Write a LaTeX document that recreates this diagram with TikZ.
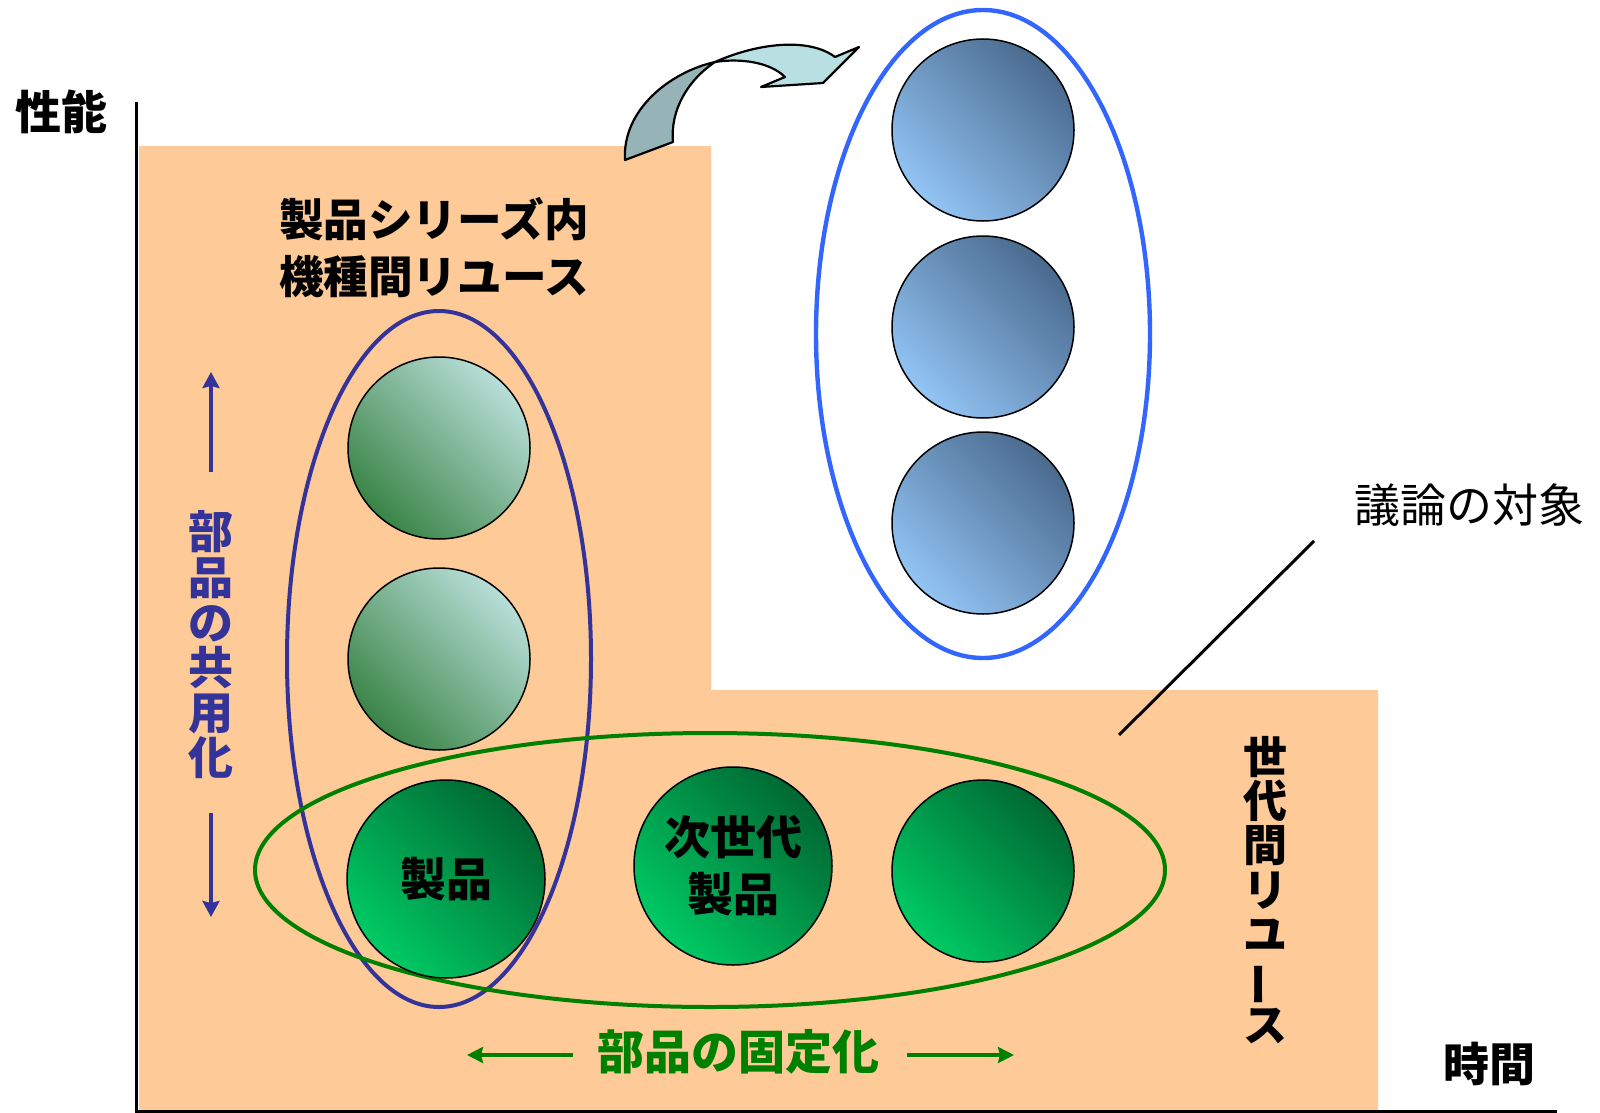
\documentclass[tikz,border=0pt]{standalone}
\usepackage{fontspec}
\usepackage{graphicx}
\newfontfamily\jp{Noto Sans CJK JP}
\usetikzlibrary{shapes.geometric,arrows.meta}
\definecolor{peach}{RGB}{253,202,152}
\definecolor{navy}{RGB}{51,51,153}
\definecolor{bluering}{RGB}{51,102,255}
\definecolor{greenring}{RGB}{0,128,0}
\definecolor{bdark}{RGB}{74,106,142}
\definecolor{blight}{RGB}{146,196,244}
\definecolor{tlight}{RGB}{184,222,216}
\definecolor{tdark}{RGB}{58,132,70}
\definecolor{gdark}{RGB}{0,104,50}
\definecolor{glight}{RGB}{0,202,100}
\definecolor{arrdark}{RGB}{150,180,184}
\definecolor{arrlight}{RGB}{184,224,227}
\begin{document}
\begin{tikzpicture}[x=0.5pt,y=-0.5pt,
  ball/.style={circle, draw=black, line width=0.75pt, inner sep=0pt, minimum size=91pt},
  bigball/.style={ball, minimum size=99pt},
  blueball/.style={ball, top color=bdark, bottom color=blight, shading angle=-45},
  tealball/.style={ball, top color=tlight, bottom color=tdark, shading angle=-45},
  greenball/.style={top color=gdark, bottom color=glight, shading angle=-45},
  ring/.style={ellipse, inner sep=0pt},
  jpb/.style={font={\jp\bfseries\fontsize{#1}{#1}\selectfont}},
  navyarrow/.style={navy, line width=1.6pt, -{Stealth[length=8pt,width=8.5pt,inset=1pt]}},
  greenarrow/.style={greenring, line width=1.6pt, -{Stealth[length=8pt,width=8pt,inset=1pt]}}
]
\useasboundingbox (0,0) rectangle (1600,1113);
% background L-shape
\fill[peach] (139,146) -- (711,146) -- (711,690) -- (1378,690) -- (1378,1112) -- (139,1112) -- cycle;
% axes
\coordinate (ytop) at (136,102);
\coordinate (origin) at (136,1111);
\coordinate (xend) at (1557,1111);
\draw[line width=1.5pt] (ytop) -- (origin) -- (xend);
\node[jpb=23pt] (perf) at (61,112) {性能};
\node[jpb=23pt] (time) at (1489,1064) {時間};
% curved arrow
\fill[arrdark, draw=black, line width=1.1pt, line join=round]
  (625,160) -- (673,142) .. controls (670,110) and (688,80) .. (715,62)
  .. controls (670,72) and (622,110) .. (625,160) -- cycle;
\fill[arrlight, draw=black, line width=1.1pt, line join=round]
  (715,62) .. controls (760,42) and (810,38) .. (835,57) -- (859,47) -- (823,83) -- (761,87) -- (785,77)
  .. controls (770,62) and (740,58) .. (715,62) -- cycle;
% rings
\node[ring, draw=bluering, line width=2.2pt, minimum width=167pt, minimum height=324pt] (bluering) at (983,334) {};
\node[ring, draw=navy, line width=2pt, minimum width=152pt, minimum height=348pt] (navyring) at (439,659) {};
\node[ring, draw=greenring, line width=2pt, minimum width=455pt, minimum height=137pt] (greenring) at (710,870) {};
% blue balls
\node[blueball] (b1) at (983,130) {};
\node[blueball] (b2) at (983,327) {};
\node[blueball] (b3) at (983,523) {};
% teal balls
\node[tealball] (t1) at (439,448) {};
\node[tealball] (t2) at (439,659) {};
% green balls
\node[bigball, greenball, jpb=23pt] (g1) at (446,879) {製品};
\node[bigball, greenball, jpb=23pt, align=center, font={\jp\bfseries\fontsize{23pt}{28.5pt}\selectfont}] (g2) at (733,866) {次世代\\製品};
\node[ball, greenball] (g3) at (983,871) {};
% titles
\node[align=center, font={\jp\bfseries\fontsize{22.3pt}{28.5pt}\selectfont}] (series) at (434,248) {製品シリーズ内\\機種間リユース};
% vertical label: 部品の共用化
\node[navy, align=center, font={\jp\bfseries\fontsize{22.5pt}{22.6pt}\selectfont}] (share) at (211,645) {部\\品\\の\\共\\用\\化};
\coordinate (shareup0) at (211,472);
\coordinate (shareup1) at (211,372);
\coordinate (sharedn0) at (211,813);
\coordinate (sharedn1) at (211,917);
\draw[navyarrow] (shareup0) -- (shareup1);
\draw[navyarrow] (sharedn0) -- (sharedn1);
% 部品の固定化
\node[greenring, jpb=23.5pt] (fix) at (738,1052) {部品の固定化};
\coordinate (fixl0) at (573,1055);
\coordinate (fixl1) at (467,1055);
\coordinate (fixr0) at (907,1055);
\coordinate (fixr1) at (1014,1055);
\draw[greenarrow] (fixl0) -- (fixl1);
\draw[greenarrow] (fixr0) -- (fixr1);
% 世代間リユース
\node[align=center, font={\jp\bfseries\fontsize{22pt}{22.2pt}\selectfont}] (gen) at (1265,890) {世\\代\\間\\リ\\ユ\\\rotatebox[origin=c]{90}{ー}\\ス};
% 議論の対象
\node[font={\jp\fontsize{23pt}{23pt}\selectfont}] (target) at (1469,505) {議論の対象};
\coordinate (tgt0) at (1314,541);
\coordinate (tgt1) at (1119,735);
\draw[line width=1.5pt] (tgt0) -- (tgt1);
\end{tikzpicture}
\end{document}
